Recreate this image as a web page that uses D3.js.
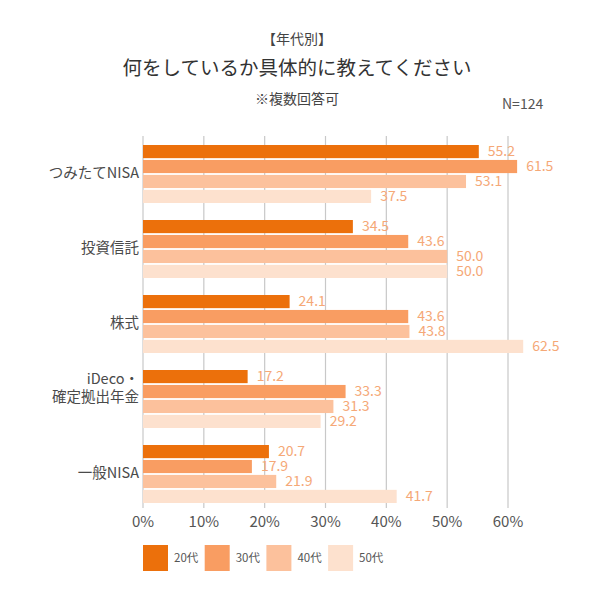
<!DOCTYPE html>
<html><head><meta charset="utf-8">
<script src="https://cdn.jsdelivr.net/npm/d3@7/dist/d3.min.js"></script>
<style>body{margin:0;background:#fff}svg{display:block}</style>
</head><body>
<script>
const categories = ["つみたてNISA", "投資信託", "株式", "iDeco・\n確定拠出年金", "一般NISA"];
const seriesNames = ["20代", "30代", "40代", "50代"];
const v20 = [55.2, 34.5, 24.1, 17.2, 20.7];
const v30 = [61.5, 43.6, 43.6, 33.3, 17.9];
const v40 = [53.1, 50.0, 43.8, 31.3, 21.9];
const v50 = [37.5, 50.0, 62.5, 29.2, 41.7];
const xTicks = [0, 10, 20, 30, 40, 50, 60];
const series = [v20, v30, v40, v50];
const colors = ["#EC700B", "#F99D62", "#FCC19C", "#FDE1CE"];

const W = 600, H = 600;
const font = "'Noto Sans CJK JP', 'Noto Sans', sans-serif";
const svg = d3.select("body").append("svg").attr("width", W).attr("height", H)
  .style("font-family", font);

const x = d3.scaleLinear().domain([0, 60]).range([143, 508]);
const y = d3.scaleBand().domain(categories).range([137, 512]);
const yInner = d3.scaleBand().domain(d3.range(4)).range([8, 66]).paddingInner(0.12);

// grid
svg.append("g").selectAll("line").data(xTicks).join("line")
  .attr("x1", d => x(d)).attr("x2", d => x(d))
  .attr("y1", 136).attr("y2", 508)
  .attr("stroke", "#c8c8c8").attr("stroke-width", 1.2);

// bars
const groups = svg.append("g").selectAll("g").data(categories).join("g")
  .attr("transform", c => `translate(0,${y(c)})`);
groups.each(function(c, ci) {
  const g = d3.select(this);
  series.forEach((s, si) => {
    g.append("rect").attr("x", x(0)).attr("y", yInner(si))
      .attr("width", x(s[ci]) - x(0)).attr("height", yInner.bandwidth())
      .attr("fill", colors[si]);
    g.append("text").attr("x", x(s[ci]) + 9).attr("y", yInner(si) + yInner.bandwidth() / 2 + 1)
      .attr("dominant-baseline", "middle")
      .attr("font-size", 14).attr("fill", "#F5A877")
      .text(s[ci].toFixed(1));
  });
});

// category labels
svg.append("g").selectAll("text").data(categories).join("text")
  .attr("text-anchor", "end").attr("font-size", 14.5).attr("fill", "#4a4a4a")
  .attr("x", 139)
  .each(function(c) {
    const lines = c.split("\n");
    const t = d3.select(this);
    const cy = y(c) + y.bandwidth() / 2 + (lines.length > 1 ? -10 : 0);
    const lh = 18;
    lines.forEach((l, i) => {
      t.append("tspan").attr("x", 139)
        .attr("y", cy + (i - (lines.length - 1) / 2) * lh)
        .attr("dominant-baseline", "middle").text(l);
    });
  });

// x axis labels
svg.append("g").selectAll("text").data(xTicks).join("text")
  .attr("x", d => x(d)).attr("y", 523).attr("text-anchor", "middle")
  .attr("dominant-baseline", "middle").attr("font-size", 15).attr("fill", "#555")
  .text(d => d + "%");

// titles
svg.append("text").attr("x", 297).attr("y", 40).attr("text-anchor", "middle")
  .attr("dominant-baseline", "middle").attr("font-size", 14).attr("fill", "#444").text("【年代別】");
svg.append("text").attr("x", 297).attr("y", 70).attr("text-anchor", "middle")
  .attr("dominant-baseline", "middle").attr("font-size", 19.5).attr("fill", "#333")
  .text("何をしているか具体的に教えてください");
svg.append("text").attr("x", 297).attr("y", 100).attr("text-anchor", "middle")
  .attr("dominant-baseline", "middle").attr("font-size", 14).attr("fill", "#444").text("※複数回答可");
svg.append("text").attr("x", 502).attr("y", 105)
  .attr("dominant-baseline", "middle").attr("font-size", 14).attr("fill", "#555").text("N=124");

// legend
const lg = svg.append("g").selectAll("g").data(seriesNames).join("g")
  .attr("transform", (d, i) => `translate(${143 + i * 61.7},545)`);
lg.append("rect").attr("width", 25).attr("height", 26).attr("fill", (d, i) => colors[i]);
lg.append("text").attr("x", 31).attr("y", 14).attr("dominant-baseline", "middle")
  .attr("font-size", 11.5).attr("fill", "#555").text(d => d);
</script>
</body></html>
